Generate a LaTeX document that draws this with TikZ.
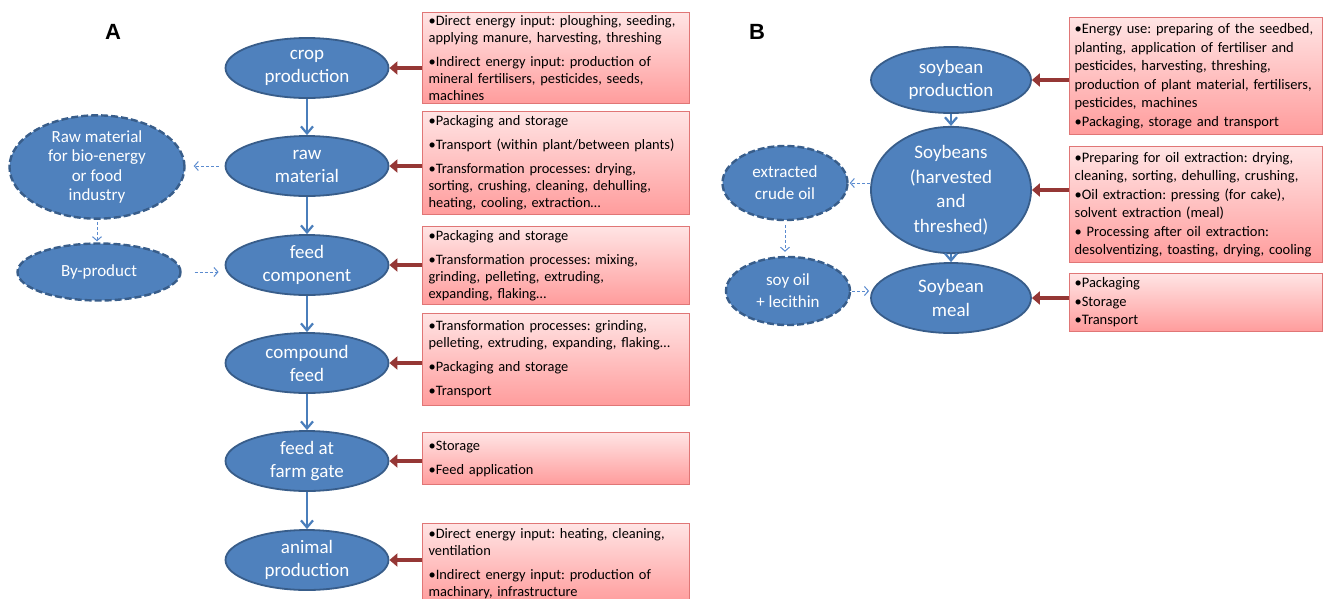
\documentclass[tikz,border=0pt]{standalone}
\usepackage{fontspec}
\setmainfont{Carlito}
\newfontfamily\panelfont{Liberation Sans}
\usetikzlibrary{shapes.geometric,arrows.meta}
\frenchspacing
\definecolor{ellfill}{HTML}{4F81BD}
\definecolor{elldraw}{HTML}{385D8A}
\definecolor{flowblue}{HTML}{4A7EBB}
\definecolor{dashblue}{HTML}{5B8BCF}
\definecolor{inred}{HTML}{953735}
\definecolor{boxdraw}{HTML}{E07676}
\definecolor{boxtop}{HTML}{FFE4E4}
\definecolor{boxbot}{HTML}{FF9C9C}
\tikzset{
	stage/.style={ellipse,draw=elldraw,line width=1.8pt,fill=ellfill,text=white,align=center,inner sep=0pt,font=\fontsize{19}{23}\selectfont},
	side/.style={stage,dash pattern=on 7pt off 3pt,line width=2.4pt,font=\fontsize{17}{19.5}\selectfont},
	inbox/.style={rectangle,draw=boxdraw,line width=1.2pt,top color=boxtop,bottom color=boxbot,anchor=north west,align=left,inner ysep=0pt,font=\fontsize{14.4}{17}\selectfont},
	inboxA/.style={inbox,inner xsep=6pt,text width=255pt},
	inboxB/.style={inbox,inner xsep=5pt,text width=243pt,font=\fontsize{14.5}{18.5}\selectfont},
	flow/.style={draw=flowblue,line width=2.2pt,-{Straight Barb[length=7pt,width=12pt]}},
	energy/.style={draw=inred,line width=4pt,-{Triangle[length=8pt,width=13pt]}},
	spill/.style={draw=dashblue,line width=1pt,dash pattern=on 3pt off 2pt,-{Straight Barb[length=4pt,width=9pt]}}
}
\begin{document}
\begin{tikzpicture}[x=1pt,y=-1pt]
	\useasboundingbox (0,0) rectangle (1324,598);
	%
	% panel A
	\node (labA) at (113,32) {\panelfont\bfseries\fontsize{22}{22}\selectfont A};
	\node [stage,minimum width=163pt,minimum height=60pt] (crop) at (307,68) {crop\\production};
	\node [stage,minimum width=163pt,minimum height=60pt] (raw) at (307,166) {raw\\material};
	\node [stage,minimum width=163pt,minimum height=60pt] (comp) at (307,265) {feed\\component};
	\node [stage,minimum width=163pt,minimum height=60pt] (cfeed) at (307,363) {compound\\feed};
	\node [stage,minimum width=163pt,minimum height=60pt] (farm) at (307,461) {feed at\\farm gate};
	\node [stage,minimum width=163pt,minimum height=60pt] (anim) at (307,560) {animal\\production};
	\node [side,minimum width=175pt,minimum height=85pt] (bio) at (97,167) {Raw material\\for bio-energy\\or food\\industry};
	\node [side,minimum width=163pt,minimum height=57pt] (byp) at (99,272) {By-product};
	%
	\node [inboxA,minimum height=91pt] (ta1) at (422,12) {\textbullet Direct energy input: ploughing, seeding,\\applying manure, harvesting, threshing\\[7pt]\textbullet Indirect energy input: production of\\mineral fertilisers, pesticides, seeds,\\machines};
	\node [inboxA,minimum height=103pt] (ta2) at (422,111) {\textbullet Packaging and storage\\[7pt]\textbullet Transport (within plant/between plants)\\[7pt]\textbullet Transformation processes: drying,\\sorting, crushing, cleaning, dehulling,\\heating, cooling, extraction\dots};
	\node [inboxA,minimum height=78pt] (ta3) at (422,226) {\textbullet Packaging and storage\\[7pt]\textbullet Transformation processes: mixing,\\grinding, pelleting, extruding,\\expanding, flaking\dots};
	\node [inboxA,minimum height=92pt] (ta4) at (422,313) {\textbullet Transformation processes: grinding,\\pelleting, extruding, expanding, flaking\dots\\[7pt]\textbullet Packaging and storage\\[7pt]\textbullet Transport};
	\node [inboxA,minimum height=52pt] (ta5) at (422,432) {\textbullet Storage\\[7pt]\textbullet Feed application};
	\node [inboxA,minimum height=80pt] (ta6) at (422,523) {\textbullet Direct energy input: heating, cleaning,\\ventilation\\[7pt]\textbullet Indirect energy input: production of\\machinary, infrastructure};
	%
	\draw [flow] (crop) -- (raw);
	\draw [flow] (raw) -- (comp);
	\draw [flow] (comp) -- (cfeed);
	\draw [flow] (cfeed) -- (farm);
	\draw [flow] (farm) -- (anim);
	\draw [energy] (ta1.west |- crop.east) -- (crop.east);
	\draw [energy] (ta2.west |- raw.east) -- (raw.east);
	\draw [energy] (ta3.west |- comp.east) -- (comp.east);
	\draw [energy] (ta4.west |- cfeed.east) -- (cfeed.east);
	\draw [energy] (ta5.west |- farm.east) -- (farm.east);
	\draw [energy] (ta6.west |- anim.east) -- (anim.east);
	\draw [spill,shorten <=6pt,shorten >=8pt] (raw.west) -- (raw.west -| bio.east);
	\draw [spill,shorten <=2pt,shorten >=1pt] (bio.south) -- (bio.south |- byp.north);
	\draw [spill,shorten <=13pt,shorten >=6pt] (byp.east) -- (byp.east -| comp.west);
	%
	% panel B
	\node (labB) at (757,32) {\panelfont\bfseries\fontsize{22}{22}\selectfont B};
	\node [stage,minimum width=160pt,minimum height=66pt] (soyp) at (951,80) {soybean\\production};
	\node [stage,minimum width=160pt,minimum height=102pt,font=\fontsize{19}{24.5}\selectfont] (soyb) at (951,190) {Soybeans\\(harvested\\and\\threshed)};
	\node [stage,minimum width=160pt,minimum height=70pt,font=\fontsize{19}{24.5}\selectfont] (meal) at (951,298) {Soybean\\meal};
	\node [side,minimum width=125pt,minimum height=74pt,font=\fontsize{17}{22}\selectfont] (crude) at (785,183) {extracted\\crude oil};
	\node [side,minimum width=124pt,minimum height=68pt,font=\fontsize{17}{22}\selectfont] (soyoil) at (788,291) {soy oil\\+ lecithin};
	%
	\node [inboxB,minimum height=117pt] (tb1) at (1069,17) {\textbullet Energy use: preparing of the seedbed,\\planting, application of fertiliser and\\pesticides, harvesting, threshing,\\production of plant material, fertilisers,\\pesticides, machines\\\textbullet Packaging, storage and transport};
	\node [inboxB,minimum height=116pt] (tb2) at (1069,146) {\textbullet Preparing for oil extraction: drying,\\cleaning, sorting, dehulling, crushing,\\\textbullet Oil extraction: pressing (for cake),\\solvent extraction (meal)\\\textbullet{} Processing after oil extraction:\\desolventizing, toasting, drying, cooling};
	\node [inboxB,minimum height=58pt] (tb3) at (1069,273) {\textbullet Packaging\\\textbullet Storage\\\textbullet Transport};
	%
	\draw [flow] (soyp) -- (soyb);
	\draw [flow] (soyb) -- (meal);
	\draw [energy] (tb1.west |- soyp.east) -- (soyp.east);
	\draw [energy] (tb2.west |- soyb.east) -- (soyb.east);
	\draw [energy] (tb3.west |- meal.east) -- (meal.east);
	\draw [spill,shorten >=1pt] (crude.east -| soyb.west) -- (crude.east);
	\draw [spill,shorten <=4pt,shorten >=4pt] (crude.south) -- (crude.south |- soyoil.north);
	\draw [spill,shorten <=1pt,shorten >=1pt] (soyoil.east) -- (soyoil.east -| meal.west);
\end{tikzpicture}
\end{document}
